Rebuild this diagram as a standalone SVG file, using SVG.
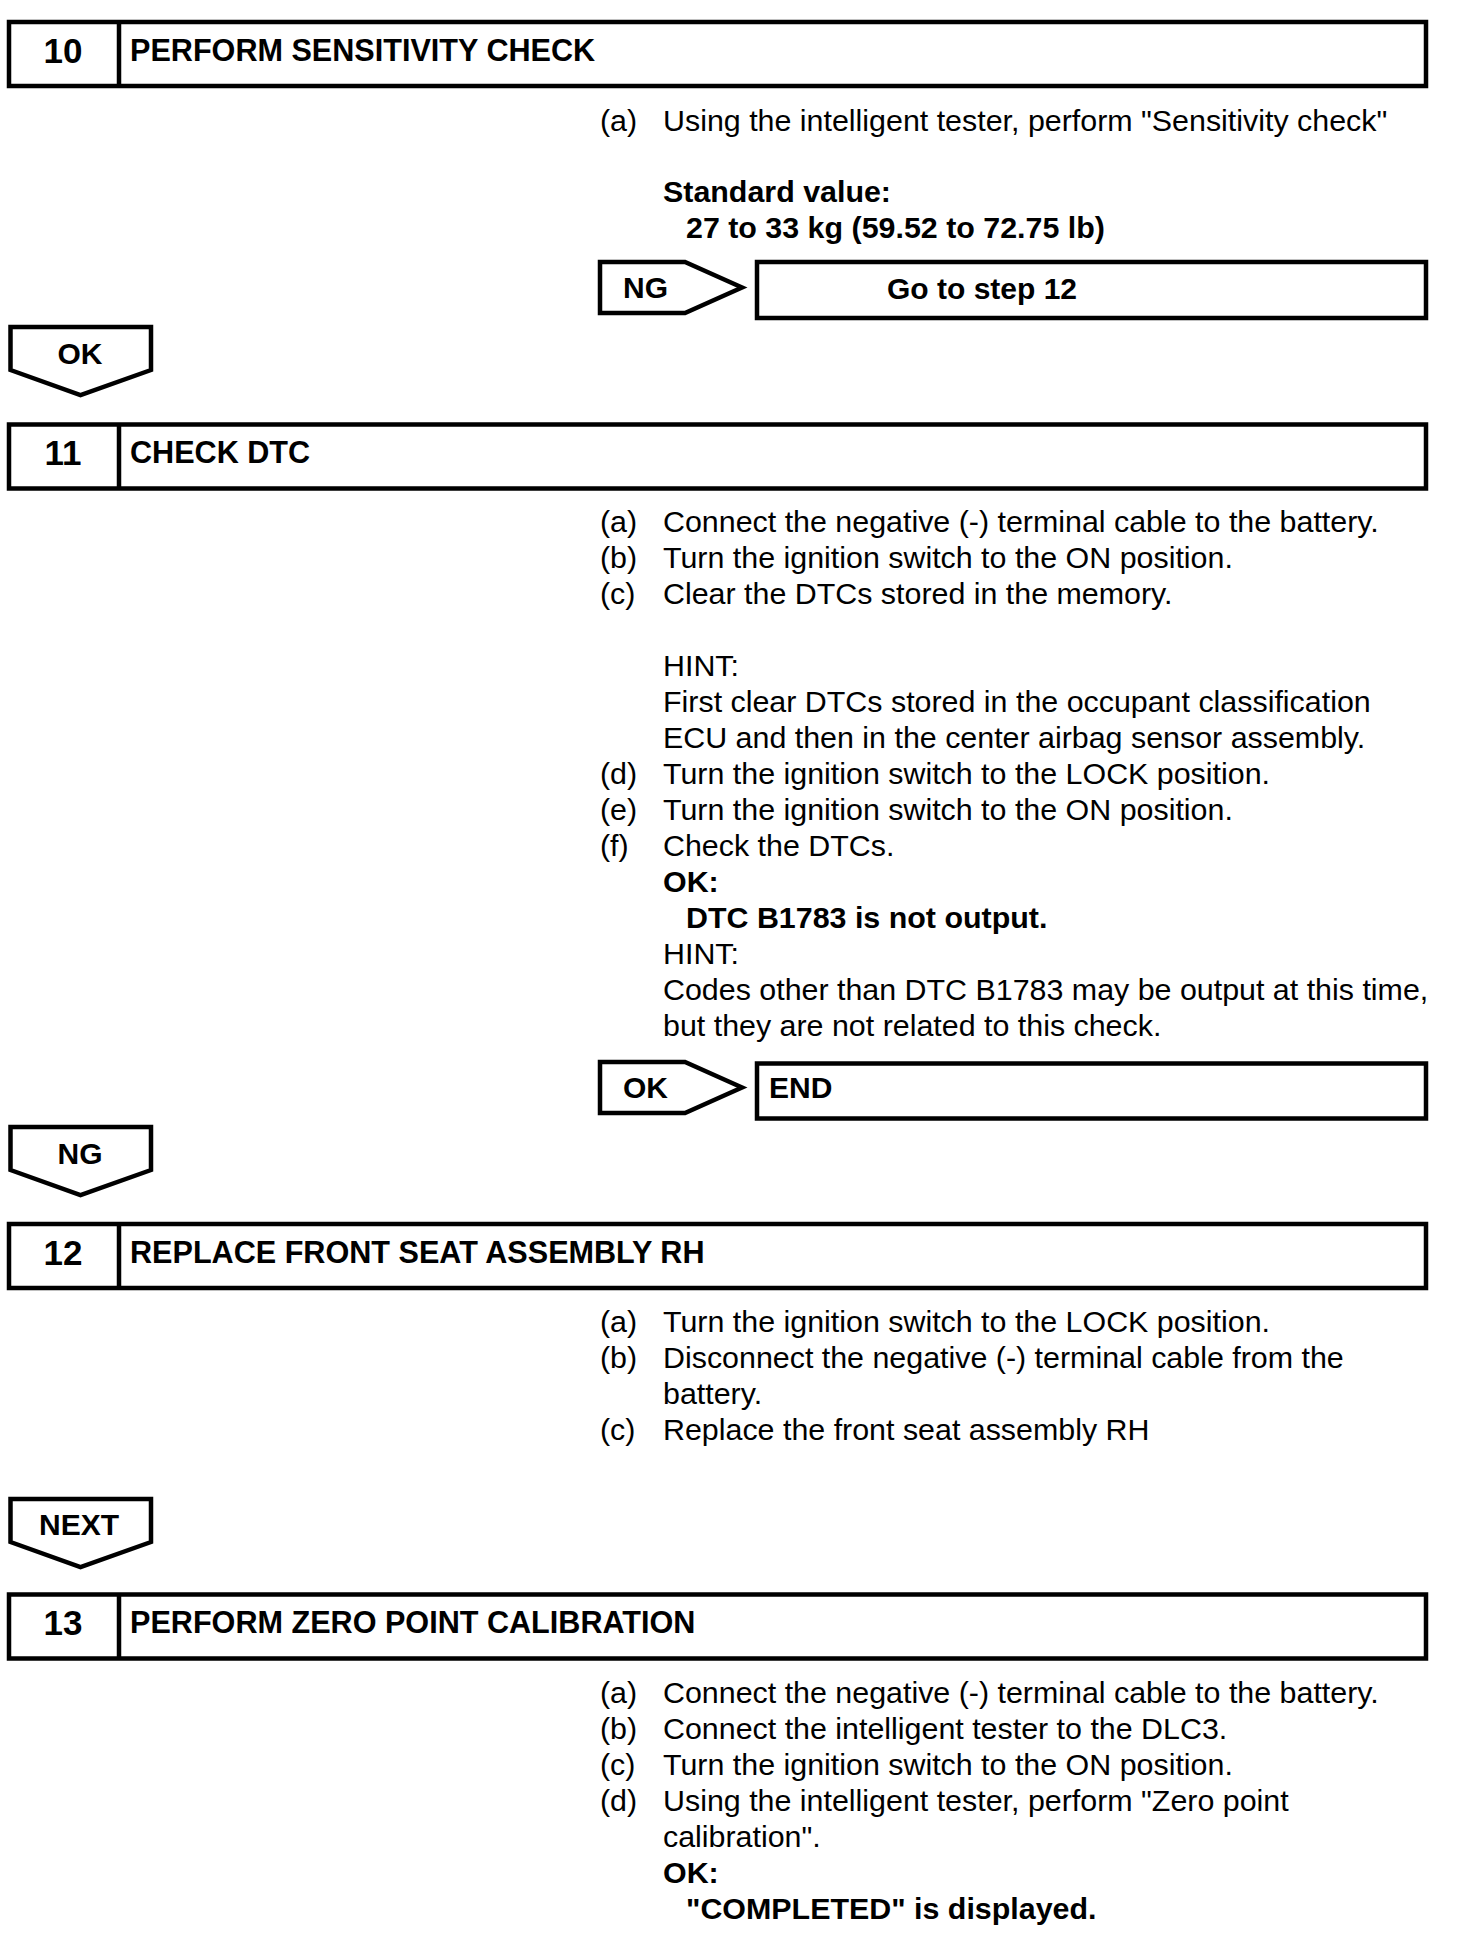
<svg xmlns="http://www.w3.org/2000/svg" width="1472" height="1950" viewBox="0 0 1472 1950">
<style>
  .box { fill: #fff; stroke: #000; stroke-width: 4.5; }
  .ln { stroke: #000; stroke-width: 4.5; }
  .arw { fill: #fff; stroke: #000; stroke-width: 4.5; stroke-linejoin: miter; }
  text { font-family: "Liberation Sans", Arial, Helvetica, sans-serif; fill: #000; }
  .num { font-size: 35px; font-weight: bold; text-anchor: middle; }
  .ttl { font-size: 30.6px; font-weight: bold; }
  .t { font-size: 30.4px; }
  .b { font-size: 30.4px; font-weight: bold; }
  .lab { font-size: 30px; font-weight: bold; }
  .labc { font-size: 30px; font-weight: bold; text-anchor: middle; }
</style>
<rect width="1472" height="1950" fill="#fff"/>

<!-- Step 10 -->
<g id="step10">
  <rect class="box" x="9" y="22" width="1417" height="64"/>
  <line class="ln" x1="119" y1="22" x2="119" y2="86"/>
  <text class="num" x="63" y="63">10</text>
  <text class="ttl" x="130" y="60.5">PERFORM SENSITIVITY CHECK</text>
</g>
<g id="step10-text">
  <text class="t" x="600" y="131">(a)</text>
  <text class="t" x="663" y="131">Using the intelligent tester, perform "Sensitivity check"</text>
  <text class="b" x="663" y="202">Standard value:</text>
  <text class="b" x="686" y="238">27 to 33 kg (59.52 to 72.75 lb)</text>
</g>
<g id="ng10">
  <path class="arw" d="M600,262 H685 L742,287.5 L685,313 H600 Z"/>
  <text class="lab" x="623" y="298">NG</text>
</g>
<g id="goto12">
  <rect class="box" x="757" y="262" width="669" height="56"/>
  <text class="lab" x="887" y="299">Go to step 12</text>
</g>
<g id="ok10">
  <path class="arw" d="M10.5,327 H151 V370 L80.5,395 L10.5,370 Z"/>
  <text class="labc" x="80" y="364">OK</text>
</g>

<!-- Step 11 -->
<g id="step11">
  <rect class="box" x="9" y="424.5" width="1417" height="64"/>
  <line class="ln" x1="119" y1="424.5" x2="119" y2="488.5"/>
  <text class="num" x="63" y="465">11</text>
  <text class="ttl" x="130" y="463">CHECK DTC</text>
</g>
<g id="step11-text">
  <text class="t" x="600" y="532">(a)</text>
  <text class="t" x="663" y="532">Connect the negative (-) terminal cable to the battery.</text>
  <text class="t" x="600" y="568">(b)</text>
  <text class="t" x="663" y="568">Turn the ignition switch to the ON position.</text>
  <text class="t" x="600" y="604">(c)</text>
  <text class="t" x="663" y="604">Clear the DTCs stored in the memory.</text>
  <text class="t" x="663" y="676">HINT:</text>
  <text class="t" x="663" y="712">First clear DTCs stored in the occupant classification</text>
  <text class="t" x="663" y="748">ECU and then in the center airbag sensor assembly.</text>
  <text class="t" x="600" y="784">(d)</text>
  <text class="t" x="663" y="784">Turn the ignition switch to the LOCK position.</text>
  <text class="t" x="600" y="820">(e)</text>
  <text class="t" x="663" y="820">Turn the ignition switch to the ON position.</text>
  <text class="t" x="600" y="856">(f)</text>
  <text class="t" x="663" y="856">Check the DTCs.</text>
  <text class="b" x="663" y="892">OK:</text>
  <text class="b" x="686" y="928">DTC B1783 is not output.</text>
  <text class="t" x="663" y="964">HINT:</text>
  <text class="t" x="663" y="1000">Codes other than DTC B1783 may be output at this time,</text>
  <text class="t" x="663" y="1036">but they are not related to this check.</text>
</g>
<g id="ok11">
  <path class="arw" d="M600,1062 H685 L742,1087.5 L685,1113 H600 Z"/>
  <text class="lab" x="623" y="1098">OK</text>
</g>
<g id="end">
  <rect class="box" x="757" y="1063.5" width="669" height="55"/>
  <text class="lab" x="769" y="1098">END</text>
</g>
<g id="ng11">
  <path class="arw" d="M10.5,1127 H151 V1170 L80.5,1195 L10.5,1170 Z"/>
  <text class="labc" x="80" y="1164">NG</text>
</g>

<!-- Step 12 -->
<g id="step12">
  <rect class="box" x="9" y="1224" width="1417" height="64"/>
  <line class="ln" x1="119" y1="1224" x2="119" y2="1288"/>
  <text class="num" x="63" y="1264.5">12</text>
  <text class="ttl" x="130" y="1262.5">REPLACE FRONT SEAT ASSEMBLY RH</text>
</g>
<g id="step12-text">
  <text class="t" x="600" y="1331.5">(a)</text>
  <text class="t" x="663" y="1331.5">Turn the ignition switch to the LOCK position.</text>
  <text class="t" x="600" y="1367.5">(b)</text>
  <text class="t" x="663" y="1367.5">Disconnect the negative (-) terminal cable from the</text>
  <text class="t" x="663" y="1403.5">battery.</text>
  <text class="t" x="600" y="1439.5">(c)</text>
  <text class="t" x="663" y="1439.5">Replace the front seat assembly RH</text>
</g>
<g id="next12">
  <path class="arw" d="M10.5,1499 H151 V1542 L80.5,1567 L10.5,1542 Z"/>
  <text class="labc" x="79" y="1535">NEXT</text>
</g>

<!-- Step 13 -->
<g id="step13">
  <rect class="box" x="9" y="1594.5" width="1417" height="64"/>
  <line class="ln" x1="119" y1="1594.5" x2="119" y2="1658.5"/>
  <text class="num" x="63" y="1635">13</text>
  <text class="ttl" x="130" y="1633">PERFORM ZERO POINT CALIBRATION</text>
</g>
<g id="step13-text">
  <text class="t" x="600" y="1703">(a)</text>
  <text class="t" x="663" y="1703">Connect the negative (-) terminal cable to the battery.</text>
  <text class="t" x="600" y="1739">(b)</text>
  <text class="t" x="663" y="1739">Connect the intelligent tester to the DLC3.</text>
  <text class="t" x="600" y="1775">(c)</text>
  <text class="t" x="663" y="1775">Turn the ignition switch to the ON position.</text>
  <text class="t" x="600" y="1811">(d)</text>
  <text class="t" x="663" y="1811">Using the intelligent tester, perform "Zero point</text>
  <text class="t" x="663" y="1847">calibration".</text>
  <text class="b" x="663" y="1883">OK:</text>
  <text class="b" x="686" y="1919">"COMPLETED" is displayed.</text>
</g>
<g id="connectors"></g>
</svg>
